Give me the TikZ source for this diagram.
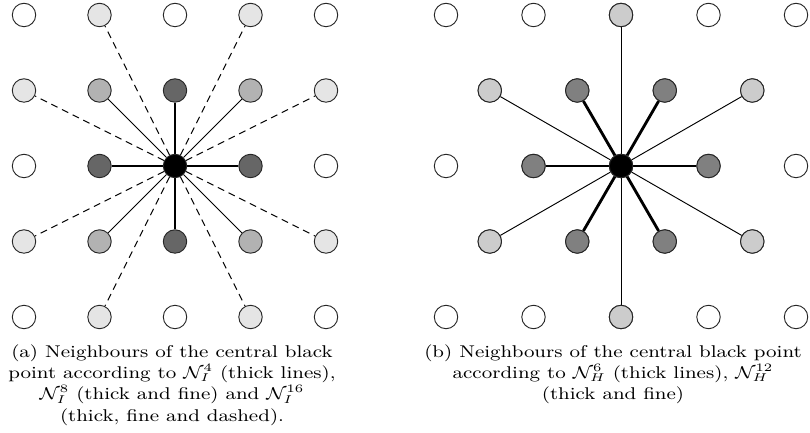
\documentclass[tikz,border=0pt]{standalone}
\usetikzlibrary{backgrounds}
\usepackage{graphicx}
\definecolor{cNfour}{gray}{0.4}
\definecolor{cNeight}{gray}{0.7}
\definecolor{cNsixteen}{gray}{0.9}
\definecolor{cHsix}{gray}{0.5}
\definecolor{cHtwelve}{gray}{0.8}
\newcommand{\captxt}[1]{\scalebox{1.2}[1]{\fontsize{9}{11.3}\selectfont\begin{tabular}[t]{@{}c@{}}#1\end{tabular}}}
\tikzset{
  pt/.style={circle,draw=black!85,line width=0.5pt,minimum size=12.4pt,inner sep=0pt},
  thickE/.style={line width=1.5pt},
  fineE/.style={line width=0.5pt},
  dashE/.style={line width=0.5pt,dash pattern=on 3.7pt off 2.6pt},
  captext/.style={inner sep=0pt,anchor=base}
}
\begin{document}
\begin{tikzpicture}[x=0.529pt,y=-0.529pt]
\useasboundingbox (0,0) rectangle (810,433);
% ---- left: square lattice
\foreach \i in {0,...,4}{
  \foreach \j in {0,...,4}{
    \pgfmathtruncatemacro\s{(\i-2)*(\i-2)+(\j-2)*(\j-2)}
    \ifcase\s \def\fc{black}\or\def\fc{cNfour}\or\def\fc{cNeight}\or\def\fc{white}\or\def\fc{white}\or\def\fc{cNsixteen}\else\def\fc{white}\fi
    \node[pt,fill=\fc] (L-\i-\j) at ({24+75.5*\i},{15+75.5*\j}) {};
  }
}
\begin{pgfonlayer}{background}
\foreach \a/\b in {2/1,1/2,3/2,2/3}
  \draw[thickE] (L-2-2) -- (L-\a-\b);
\foreach \a/\b in {1/1,3/1,1/3,3/3}
  \draw[fineE] (L-2-2) -- (L-\a-\b);
\foreach \a/\b in {1/0,3/0,0/1,4/1,0/3,4/3,1/4,3/4}
  \draw[dashE] (L-2-2) -- (L-\a-\b);
\end{pgfonlayer}
% ---- right: hexagonal lattice
\foreach \j in {0,2,4}{
  \foreach \k in {0,...,4}{
    \node[pt,fill=white] (R-\j-\k) at ({446+87.5*\k},{15+75.5*\j}) {};
  }
}
\foreach \j in {1,3}{
  \foreach \k in {0,...,3}{
    \node[pt,fill=white] (R-\j-\k) at ({489.75+87.5*\k},{15+75.5*\j}) {};
  }
}
\node[pt,fill=black] at (R-2-2) {};
\foreach \n in {R-2-1,R-2-3,R-1-1,R-1-2,R-3-1,R-3-2}
  \node[pt,fill=cHsix] at (\n) {};
\foreach \n in {R-0-2,R-4-2,R-1-0,R-1-3,R-3-0,R-3-3}
  \node[pt,fill=cHtwelve] at (\n) {};
\begin{pgfonlayer}{background}
\foreach \n in {R-2-1,R-2-3,R-1-1,R-1-2,R-3-1,R-3-2}
  \draw[thickE] (R-2-2) -- (\n);
\foreach \n in {R-0-2,R-4-2,R-1-0,R-1-3,R-3-0,R-3-3}
  \draw[fineE] (R-2-2) -- (\n);
\end{pgfonlayer}
% ---- captions
\node[captext] (capa) at (172,357) {\captxt{(a) Neighbours of the central black\\
point according to $\mathcal{N}_I^4$ (thick lines),\\
$\mathcal{N}_I^8$ (thick and fine) and $\mathcal{N}_I^{16}$\\
(thick, fine and dashed).}};
\node[captext] (capb) at (613,357) {\captxt{(b) Neighbours of the central black point\\
according to $\mathcal{N}_H^6$ (thick lines), $\mathcal{N}_H^{12}$\\
(thick and fine)}};
\end{tikzpicture}
\end{document}
